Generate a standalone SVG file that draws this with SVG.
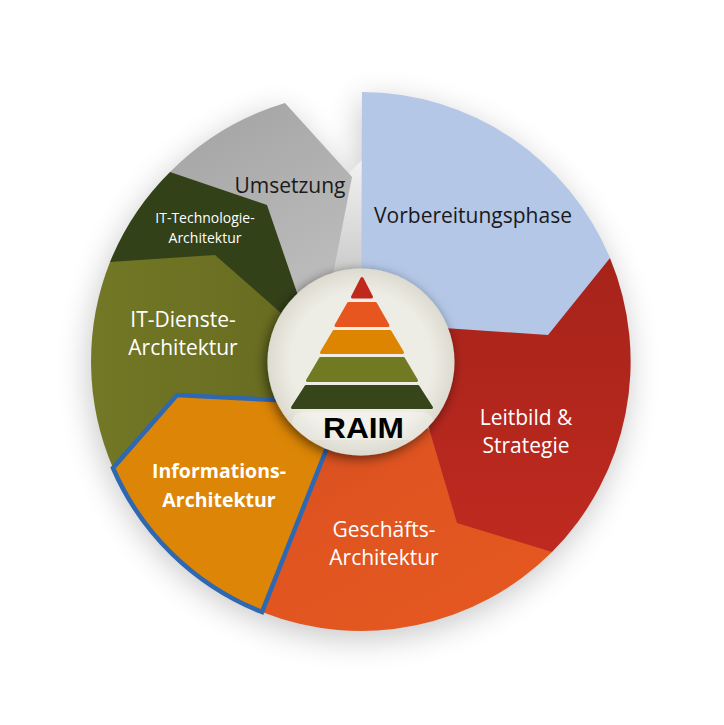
<svg xmlns="http://www.w3.org/2000/svg" width="724" height="725" viewBox="0 0 724 725">
<defs>
  <filter id="blurBig" x="-30%" y="-30%" width="160%" height="160%">
    <feGaussianBlur stdDeviation="16"/>
  </filter>
  <filter id="hubShadow" x="-30%" y="-30%" width="160%" height="160%">
    <feDropShadow dx="-2" dy="3" stdDeviation="6" flood-color="#000" flood-opacity="0.55"/>
  </filter>
  <clipPath id="hubClip">
    <circle cx="361" cy="362" r="93.5"/>
  </clipPath>
  <path id="pUms" d="M170,172 A270,270 0 0 1 285,103 L352,177 L331,285 L361,362 Z"/>
  <path id="pTech" d="M110,262 A270,270 0 0 1 170,172 L267,205 L305,316 L361,362 Z"/>
  <path id="pDien" d="M113,468 A270,270 0 0 1 110,262 L215,255 L290,321 L361,362 Z"/>
  <path id="pGes" d="M552,552 A270,270 0 0 1 262,612 L361,362 Z"/>
  <path id="pRed" d="M610,258 A270,270 0 0 1 552,552 L457,523 L425,415 L361,362 Z"/>
  <path id="pBlue" d="M362,92 A270,270 0 0 1 610,258 L548,335 L400,325 L361,362 Z"/>
  <path id="pInf" d="M262,612 A270,270 0 0 1 113,468 L177,395 L275,400 L361,362 Z"/>
  <linearGradient id="gRed" x1="0" y1="0" x2="0" y2="1">
    <stop offset="0" stop-color="#A6231A"/>
    <stop offset="1" stop-color="#BF2A20"/>
  </linearGradient>
  <linearGradient id="gGes" x1="0" y1="0" x2="0.6" y2="1">
    <stop offset="0" stop-color="#C94A1E"/>
    <stop offset="0.5" stop-color="#DF5421"/>
    <stop offset="1" stop-color="#E45720"/>
  </linearGradient>
  <linearGradient id="gDien" x1="0" y1="0" x2="1" y2="0">
    <stop offset="0" stop-color="#737826"/>
    <stop offset="1" stop-color="#62671F"/>
  </linearGradient>
  <linearGradient id="gUms" x1="0" y1="0" x2="0.4" y2="1">
    <stop offset="0" stop-color="#A2A2A2"/>
    <stop offset="1" stop-color="#C0C0C0"/>
  </linearGradient>
  <linearGradient id="gNotch" x1="0" y1="0" x2="0" y2="1">
    <stop offset="0" stop-color="#F2F2F2"/>
    <stop offset="1" stop-color="#C2C2C2"/>
  </linearGradient>
  <radialGradient id="gHub" cx="0.5" cy="0.5" r="0.5">
    <stop offset="0.75" stop-color="#EEEDE5"/>
    <stop offset="1" stop-color="#DDDBD0"/>
  </radialGradient>
  <style>
    .lbl { font-family: "Open Sans", "Noto Sans", "DejaVu Sans", sans-serif; text-anchor: middle; }
    .dark { fill: #1A1A1A; }
    .light { fill: #FFFFFF; }
    .big { font-size: 21px; }
    .small { font-size: 14px; }
    .bold { font-weight: bold; font-size: 19.5px; }
    .raim { font-family: "Liberation Sans", Arial, sans-serif; font-weight: bold; font-size: 30px; fill: #000; text-anchor: middle; }
  </style>
</defs>
<rect width="724" height="725" fill="#FFFFFF"/>

<!-- overall soft shadow of the ring -->
<g opacity="0.22" filter="url(#blurBig)" fill="#000" transform="translate(-2,8)">
  <use href="#pUms"/><use href="#pTech"/><use href="#pDien"/><use href="#pGes"/>
  <use href="#pRed"/><use href="#pBlue"/><use href="#pInf"/>
</g>

<!-- notch shading between Umsetzung and Vorbereitungsphase -->
<path d="M350,172 L362,160 L362,300 L326,300 Z" fill="url(#gNotch)"/>

<g id="seg-umsetzung">
  <use href="#pUms" fill="url(#gUms)"/>
  <text class="lbl big dark" x="290" y="193">Umsetzung</text>
</g>
<g id="seg-it-technologie">
  <use href="#pTech" fill="#334119"/>
  <text class="lbl small light" x="205" y="223">IT-Technologie-</text>
  <text class="lbl small light" x="205" y="243">Architektur</text>
</g>
<g id="seg-it-dienste">
  <use href="#pDien" fill="url(#gDien)"/>
  <text class="lbl big light" x="183" y="327">IT-Dienste-</text>
  <text class="lbl big light" x="183" y="355">Architektur</text>
</g>
<g id="seg-geschaefts">
  <use href="#pGes" fill="url(#gGes)"/>
  <text class="lbl big light" x="384" y="537">Geschäfts-</text>
  <text class="lbl big light" x="384" y="565">Architektur</text>
</g>
<g id="seg-leitbild">
  <use href="#pRed" fill="url(#gRed)"/>
  <text class="lbl big light" x="526" y="425">Leitbild &amp;</text>
  <text class="lbl big light" x="526" y="453">Strategie</text>
</g>
<g id="seg-vorbereitung">
  <use href="#pBlue" fill="#B4C7E7"/>
  <text class="lbl big dark" x="473" y="223">Vorbereitungsphase</text>
</g>
<g id="seg-informations">
  <use href="#pInf" fill="#DC8506" stroke="#2E67B2" stroke-width="4.5" stroke-linejoin="miter"/>
  <text class="lbl bold light" x="219" y="478">Informations-</text>
  <text class="lbl bold light" x="219" y="507">Architektur</text>
</g>

<g id="hub">
  <circle cx="361" cy="362" r="93.5" fill="url(#gHub)" filter="url(#hubShadow)"/>
  <rect x="292" y="412" width="141" height="28" rx="10" fill="#FFFFFF" opacity="0.25" clip-path="url(#hubClip)"/>
  <g stroke-linejoin="round" stroke-width="3">
    <path d="M362,278.5 L371.5,297 L352.5,297 Z" fill="#C0281E" stroke="#C0281E"/>
    <path d="M348.5,303.5 L375.5,303.5 L388,325.5 L336,325.5 Z" fill="#E8561F" stroke="#E8561F"/>
    <path d="M334,331.5 L390,331.5 L402.5,352.5 L321.5,352.5 Z" fill="#DD8400" stroke="#DD8400"/>
    <path d="M320.5,358.5 L403.5,358.5 L416.5,380.5 L307.5,380.5 Z" fill="#717A23" stroke="#717A23"/>
    <path d="M306,386.5 L418,386.5 L431.5,407.5 L292.5,407.5 Z" fill="#36461A" stroke="#36461A"/>
  </g>
  <text class="raim" x="363.5" y="438" textLength="81" lengthAdjust="spacingAndGlyphs">RAIM</text>
</g>
</svg>
